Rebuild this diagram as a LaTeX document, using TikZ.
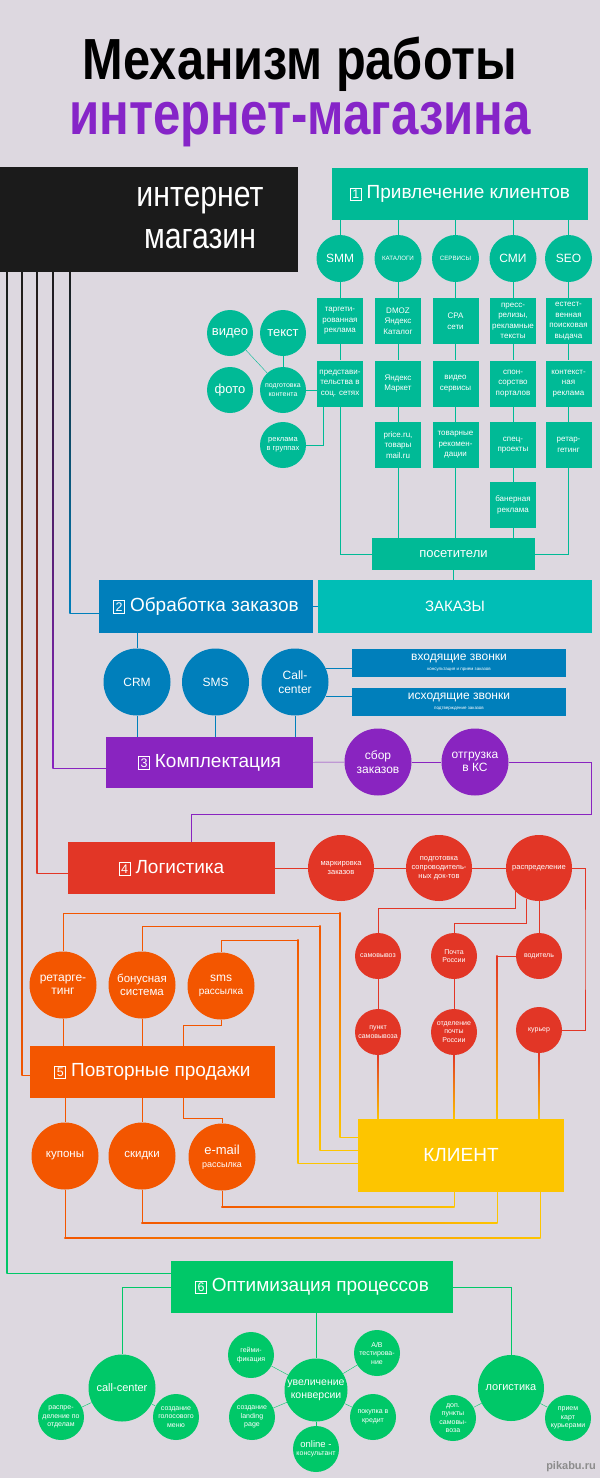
\documentclass[tikz,border=0pt]{standalone}
\usepackage{fontspec}
\setmainfont{Liberation Sans}
\usepackage{graphicx}
\usepackage{tikz}
\usetikzlibrary{calc}
\usetikzlibrary{backgrounds}
\definecolor{cbg}{RGB}{221,216,224}
\definecolor{cdark}{RGB}{27,27,27}
\definecolor{cteal}{RGB}{0,186,150}
\definecolor{cturq}{RGB}{0,190,182}
\definecolor{cblue}{RGB}{0,127,187}
\definecolor{cpurple}{RGB}{137,36,192}
\definecolor{cred}{RGB}{226,54,38}
\definecolor{corange}{RGB}{243,86,0}
\definecolor{cyellow}{RGB}{253,197,0}
\definecolor{cgreen}{RGB}{0,200,104}
\definecolor{ctitle}{RGB}{134,36,200}
\newcommand\fsz[2]{\fontsize{#1}{#2}\selectfont}
\newcommand\secnum[1]{{\setlength\fboxsep{1.6pt}\setlength\fboxrule{0.8pt}\fbox{\fsz{12.5}{12.5}#1}}\hspace{5pt}}
\newcommand\gline[3]{\shade[#1] ($(#2)+(-0.65,-0.65)$) rectangle ($(#3)+(0.65,0.65)$);}
\tikzset{sect/.style = {fill=#1, text=white, inner sep=0, minimum height=52, font=\fsz{19}{22}}}
\tikzset{cell/.style = {fill=cteal, text=white, inner sep=0, minimum size=46, align=center, font=\fsz{8}{10.5}}}
\tikzset{bub/.style = {circle, fill=#1, text=white, inner sep=0, align=center}}
\tikzset{bigcirc/.style = {minimum size=67, font=\fsz{12}{13.5}}}
\tikzset{smallcirc/.style = {minimum size=46, font=\fsz{7}{8.5}}}

\begin{document}
\begin{tikzpicture}[x=1pt, y=-1pt]
  \begin{scope}[on background layer]
    \fill[cbg] (0,0) rectangle (600,1478);
  \end{scope}
  \useasboundingbox (0,0) rectangle (600,1478);

  \node[anchor=base, inner sep=0, font=\bfseries\fsz{58}{58}] (title) at (300,79) {\scalebox{0.84}[1]{Механизм работы}};
  \node[anchor=base, inner sep=0, text=ctitle, font=\bfseries\fsz{60}{60}] (subtitle) at (300,134) {\scalebox{0.82}[1]{интернет-магазина}};

  % 1 -- clients
  \node[fill=cdark, minimum width=298, minimum height=105, inner sep=0] (shop) at (149,219.5) {};
  \node[text=white, align=center, font=\fsz{36}{42}] (shoptxt) at (200,218) {\scalebox{0.84}[1]{интернет}\\\scalebox{0.84}[1]{магазин}};
  \node[sect=cteal, minimum width=256] (sect1) at (460,194) {\secnum{1}Привлечение клиентов};

  \foreach \n/\x/\t/\f in {smm/340/SMM/12, kat/398/КАТАЛОГИ/6.2, serv/455.5/СЕРВИСЫ/6.2, smi/513/СМИ/12, seo/568.5/SEO/12}
    \node[bub=cteal, minimum size=47, font=\fsz{\f}{\f}] (\n) at (\x,258.5) {\t};

  \foreach \n/\x/\y/\t in {
      c11/340/321/{таргети-\\рованная\\реклама}, c12/340/383.5/{представи-\\тельства в\\соц. сетях},
      c21/398/321/{DMOZ\\Яндекс\\Каталог}, c22/398/383.5/{Яндекс\\Маркет}, c23/398/445/{price.ru,\\товары\\mail.ru},
      c31/455.5/321/{CPA\\сети}, c32/455.5/383.5/{видео\\сервисы}, c33/455.5/445/{товарные\\рекомен-\\дации},
      c41/513/321/{пресс-\\релизы,\\рекламные\\тексты}, c42/513/383.5/{спон-\\сорство\\порталов},
      c43/513/445/{спец-\\проекты}, c44/513/505/{банерная\\реклама},
      c51/568.5/321/{естест-\\венная\\поисковая\\выдача}, c52/568.5/383.5/{контекст-\\ная\\реклама}, c53/568.5/445/{ретар-\\гетинг}}
    \node[cell] (\n) at (\x,\y) {\t};

  \node[bub=cteal, minimum size=46, font=\fsz{13}{13}] (video) at (230,333) {видео};
  \node[bub=cteal, minimum size=46, font=\fsz{13}{13}] (text) at (283,333) {текст};
  \node[bub=cteal, minimum size=46, font=\fsz{13}{13}] (photo) at (230,390) {фото};
  \node[bub=cteal, smallcirc] (prep) at (283,390) {подготовка\\контента};
  \node[bub=cteal, smallcirc, font=\fsz{7.5}{9}] (groups) at (283,445) {реклама\\в группах};
  \node[sect=cteal, minimum width=163, minimum height=32, font=\fsz{13}{13}] (visitors) at (453.5,554) {посетители};

  % 2 -- orders
  \node[sect=cblue, minimum width=214, minimum height=53] (sect2) at (206,606.5) {\secnum{2}Обработка заказов};
  \node[sect=cturq, minimum width=274, minimum height=53, font=\fsz{15}{15}] (orders) at (455,606.5) {ЗАКАЗЫ};
  \node[bub=cblue, bigcirc] (crm) at (137,682) {CRM};
  \node[bub=cblue, bigcirc] (sms) at (215.5,682) {SMS};
  \node[bub=cblue, bigcirc] (callc) at (295,682) {Call-\\center};
  \node[sect=cblue, minimum width=214, minimum height=28, align=center, font=\fsz{12}{12}] (callin) at (459,663)
    {входящие звонки\\[-2pt]{\fsz{4.5}{5}консультация и прием заказов}};
  \node[sect=cblue, minimum width=214, minimum height=28, align=center, font=\fsz{12}{12}] (callout) at (459,701.5)
    {исходящие звонки\\[-2pt]{\fsz{4.5}{5}подтверждение заказов}};

  % 3 -- packing
  \node[sect=cpurple, minimum width=207, minimum height=51] (sect3) at (209.5,762.5) {\secnum{3}Комплектация};
  \node[bub=cpurple, bigcirc] (sbor) at (378,762) {сбор\\заказов};
  \node[bub=cpurple, bigcirc] (otgr) at (475,762) {отгрузка\\в КС};

  % 4 -- logistics
  \node[sect=cred, minimum width=207] (sect4) at (171.5,868) {\secnum{4}Логистика};
  \node[bub=cred, minimum size=66, font=\fsz{7.5}{9}] (tag) at (341,868) {маркировка\\заказов};
  \node[bub=cred, minimum size=66, font=\fsz{7.5}{9}] (docs) at (439,868) {подготовка\\сопроводитель-\\ных док-тов};
  \node[bub=cred, minimum size=66, font=\fsz{7.5}{9}] (distr) at (539,868) {распределение};
  \node[bub=cred, smallcirc] (pickup) at (378,956) {самовывоз};
  \node[bub=cred, smallcirc] (post) at (454,956) {Почта\\России};
  \node[bub=cred, smallcirc] (driver) at (539,956) {водитель};
  \node[bub=cred, smallcirc] (point) at (378,1032) {пункт\\самовывоза};
  \node[bub=cred, smallcirc] (office) at (454,1032) {отделение\\почты\\России};
  \node[bub=cred, smallcirc] (courier) at (539,1030) {курьер};

  % 5 -- repeat sales
  \node[sect=corange, minimum width=245] (sect5) at (152.5,1072) {\secnum{5}Повторные продажи};
  \node[bub=corange, bigcirc] (retarg) at (63,985) {ретарге-\\тинг};
  \node[bub=corange, bigcirc, font=\fsz{11.5}{13.5}] (bonus) at (142,985) {бонусная\\система};
  \node[bub=corange, bigcirc] (smsr) at (221,986) {sms\\{\fsz{10}{11}рассылка}};
  \node[bub=corange, bigcirc, font=\fsz{11.5}{13}] (coupons) at (65,1156) {купоны};
  \node[bub=corange, bigcirc, font=\fsz{11.5}{13}] (discounts) at (142,1156) {скидки};
  \node[bub=corange, bigcirc, font=\fsz{13}{13}] (email) at (222,1157) {e-mail\\{\fsz{9}{10}рассылка}};
  \node[sect=cyellow, minimum width=206, minimum height=73] (client) at (461,1155.5) {КЛИЕНТ};

  % 6 -- optimisation
  \node[sect=cgreen, minimum width=282] (sect6) at (312,1287) {\secnum{6}Оптимизация процессов};
  \node[bub=cgreen, bigcirc, font=\fsz{11}{13}] (cc) at (122,1388) {call-center};
  \node[bub=cgreen, smallcirc] (dept) at (61,1417) {распре-\\деление по\\отделам};
  \node[bub=cgreen, smallcirc] (voice) at (176,1417) {создание\\голосового\\меню};
  \node[bub=cgreen, bigcirc, minimum size=63, font=\fsz{10.5}{12.5}] (conv) at (316,1390) {увеличение\\конверсии};
  \node[bub=cgreen, smallcirc] (game) at (251,1355) {гейми-\\фикация};
  \node[bub=cgreen, smallcirc] (ab) at (377,1353) {A/B\\тестирова-\\ние};
  \node[bub=cgreen, smallcirc] (landing) at (252,1417) {создание\\landing\\page};
  \node[bub=cgreen, smallcirc] (credit) at (373,1417) {покупка в\\кредит};
  \node[bub=cgreen, smallcirc] (online) at (316,1449) {{\fsz{9.5}{10}online -}\\консультант};
  \node[bub=cgreen, bigcirc, minimum size=66, font=\fsz{11}{13}] (logi) at (511,1388) {логистика};
  \node[bub=cgreen, smallcirc] (extra) at (453,1418) {доп.\\пункты\\самовы-\\воза};
  \node[bub=cgreen, smallcirc] (cards) at (568,1418) {прием\\карт\\курьерами};

  \node[text=black!45, font=\bfseries\fsz{11}{11}] (wm) at (571,1467) {pikabu.ru};

  % turning points
  \coordinate (lg) at (7,0);
  \coordinate (lo) at (22,0);
  \coordinate (lr) at (37,0);
  \coordinate (lp) at (53,0);
  \coordinate (lb) at (70,0);
  \coordinate (e2) at ([yshift=-6.5]sect2.west);
  \coordinate (e3) at ([yshift=-5.5]sect3.west);
  \coordinate (e4) at ([yshift=-5]sect4.west);
  \coordinate (e5) at ([yshift=-3]sect5.west);
  \coordinate (e6) at ([yshift=14]sect6.west);
  \coordinate (pturn) at (591,814);
  \coordinate (rturn) at (585,950);
  \coordinate (vx) at (497,0);
  \coordinate (t1) at (340,913);
  \coordinate (t2) at (320,926);
  \coordinate (t3) at (298,940);
  \coordinate (k1) at ([yshift=18.5]client.west);
  \coordinate (k2) at ([yshift=5.5]client.west);
  \coordinate (k3) at ([yshift=-7.5]client.west);
  \coordinate (b1) at (454,1207);
  \coordinate (b2) at (497,1223);
  \coordinate (b3) at (540,1238);

  \begin{scope}[on background layer, line width=1.3]
    \foreach \c/\x/\e in {cgreen/lg/e6, corange/lo/e5, cred/lr/e4, cpurple/lp/e3, cblue/lb/e2} {
      \draw[\c] (shop.south -| \x) |- (\e);
      \gline{top color=cdark, bottom color=\c}{shop.south -| \x}{\e -| \x}
    }

    % teal
    \foreach \n in {smm,kat,serv,smi,seo}
      \draw[cteal] (\n.north |- sect1.south) -- (\n.north);
    \foreach \a/\b in {smm/c11, c11/c12, kat/c21, c21/c22, c22/c23, serv/c31, c31/c32, c32/c33,
                       smi/c41, c41/c42, c42/c43, c43/c44, seo/c51, c51/c52, c52/c53}
      \draw[cteal] (\a) -- (\b);
    \draw[cteal] (video) -- (prep);
    \draw[cteal] (text) -- (prep);
    \draw[cteal] (prep) -- (prep -| c12.west);
    \draw[cteal] (groups.east) -| ([xshift=-17]c12.south);
    \draw[cteal] (c12.south) |- (visitors.west);
    \foreach \n in {c23,c33,c44}
      \draw[cteal] (\n.south) -- (\n.south |- visitors.north);
    \draw[cteal] (c53.south) |- (visitors.east);
    \draw[cteal] (visitors.south) -- (visitors.south |- orders.north);

    % blue
    \draw[cblue] (sect2) -- (orders);
    \draw[cblue] (crm.north |- sect2.south) -- (crm.north);
    \foreach \n in {crm,sms,callc}
      \draw[cblue] (\n.south) -- (\n.south |- sect3.north);
    \draw[cblue] (callc.25) -- (callc.25 -| callin.west);
    \draw[cblue] (callc.-25) -- (callc.-25 -| callout.west);

    % purple
    \draw[cpurple] (sect3) -- (sbor);
    \draw[cpurple] (sbor) -- (otgr);
    \draw[cpurple] (otgr.east) -| (pturn) -| ([xshift=19.5]sect4.north);

    % red
    \draw[cred] (sect4) -- (tag);
    \draw[cred] (tag) -- (docs);
    \draw[cred] (docs) -- (distr);
    \draw[cred] (distr.east) -| (rturn) |- (courier.east);
    \draw[cred] (distr.-135) -- ++(0,17) -| (pickup.north);
    \draw[cred] (distr.-113) -- ++(0,25) -| (post.north);
    \draw[cred] (distr.south) -- (driver.north);
    \draw[cred] (pickup) -- (point);
    \draw[cred] (post) -- (office);
    \draw[cred] (driver.west) -- (driver.west -| vx);
    \gline{top color=cred, bottom color=cyellow}{driver.west -| vx}{client.north -| vx}
    \foreach \n in {point,office,courier} {
      \gline{top color=cred, bottom color=cyellow}{\n.south}{\n.south |- client.north}
    }

    % orange
    \draw[corange] (retarg.south) -- (retarg.south |- sect5.north);
    \draw[corange] (bonus.south) -- (bonus.south |- sect5.north);
    \draw[corange] (smsr.south) -- ++(0,5) -| ([xshift=30.5]sect5.north);
    \draw[corange] (coupons.north |- sect5.south) -- (coupons.north);
    \draw[corange] (discounts.north |- sect5.south) -- (discounts.north);
    \draw[corange] ([xshift=31]sect5.south) -- ++(0,20) -| (email.north);
    \foreach \n/\t/\k in {retarg/t1/k1, bonus/t2/k2, smsr/t3/k3} {
      \draw[corange] (\n.north) |- (\t);
      \gline{top color=corange, bottom color=cyellow}{\t}{\t |- \k}
      \draw[cyellow] (\t |- \k) -- (\k);
    }
    \foreach \n/\b in {email/b1, discounts/b2, coupons/b3} {
      \draw[cyellow] (client.south -| \b) -- (\b);
      \gline{left color=corange, right color=cyellow}{\n.south |- \b}{\b}
      \draw[corange] (\n.south) -- (\n.south |- \b);
    }

    % green
    \draw[cgreen] (sect6.west) -| (cc.north);
    \draw[cgreen] (sect6.east) -| (logi.north);
    \draw[cgreen] (conv.north |- sect6.south) -- (conv.north);
    \foreach \a/\b in {cc/dept, cc/voice, conv/game, conv/ab, conv/landing, conv/credit, conv/online, logi/extra, logi/cards}
      \draw[cgreen] (\a) -- (\b);
  \end{scope}
\end{tikzpicture}
\end{document}
